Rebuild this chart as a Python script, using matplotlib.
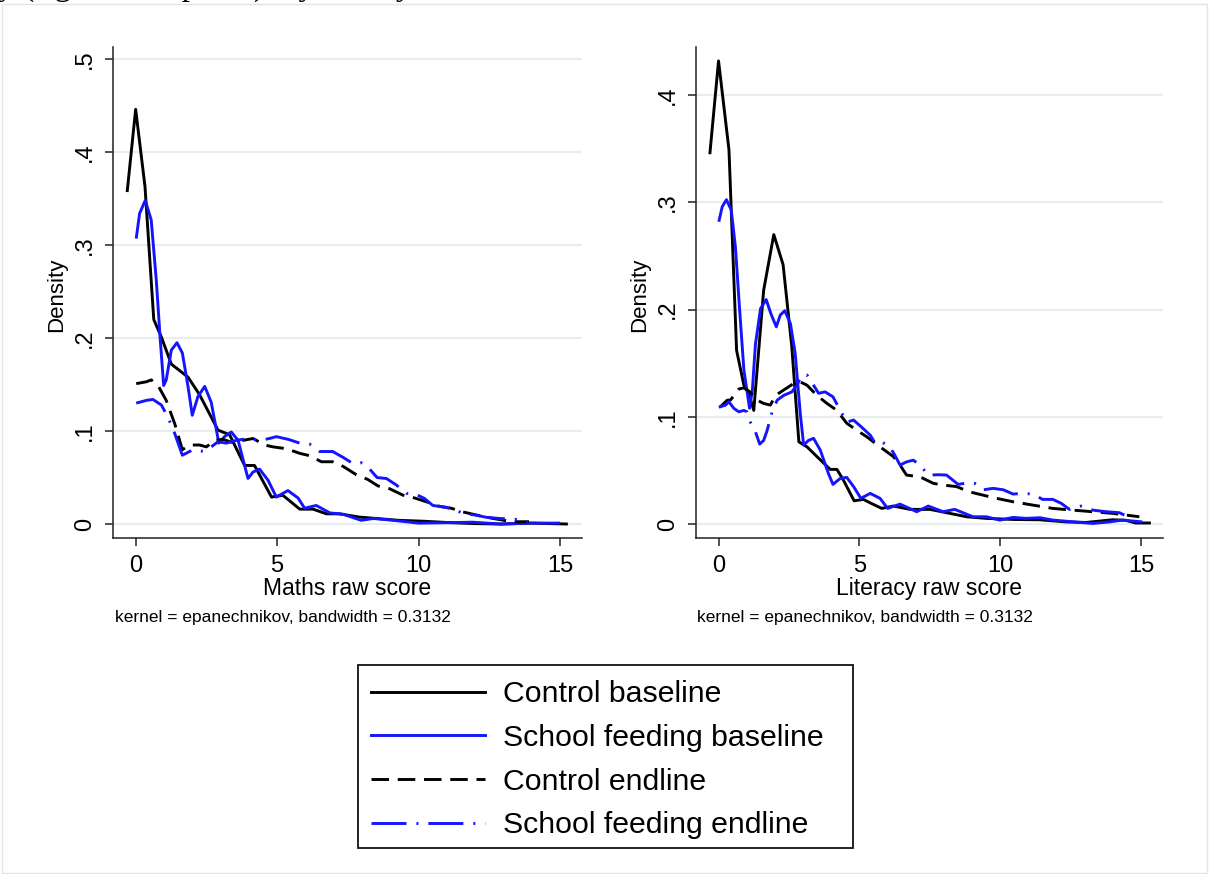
import matplotlib
matplotlib.use("Agg")
import matplotlib.pyplot as plt
from matplotlib.lines import Line2D
from matplotlib.patches import Rectangle

plt.rcParams['font.family'] = ['Liberation Sans', 'DejaVu Sans']

# ---- Maths raw score: kernel density estimates ----
m_cb_x = [-0.3, 0.0, 0.33, 0.64, 0.91, 1.26, 1.85, 2.26, 2.91, 3.32, 3.85, 4.2, 4.8, 5.2,
          5.8, 6.27, 6.74, 7.2, 7.9, 9.3, 10.2, 11.1, 12.0, 12.9, 14.0, 15.27]
m_cb_y = [0.357, 0.446, 0.363, 0.220, 0.201, 0.172, 0.158, 0.139, 0.101, 0.096, 0.063, 0.063, 0.029, 0.031,
          0.016, 0.016, 0.011, 0.011, 0.0075, 0.004, 0.003, 0.0015, 0.0005, 0.0, 0.001, 0.0]

m_sb_x = [0.02, 0.14, 0.34, 0.55, 0.73, 0.87, 0.99, 1.08, 1.26, 1.46, 1.65, 1.85, 2.0, 2.2,
          2.44, 2.67, 2.94, 3.14, 3.38, 3.62, 3.97, 4.15, 4.38, 4.68, 4.97, 5.38, 5.74, 5.97,
          6.38, 6.86, 7.33, 7.97, 8.4, 9.1, 10.0, 11.1, 11.9, 12.9, 14.0, 15.0]
m_sb_y = [0.307, 0.334, 0.348, 0.327, 0.262, 0.198, 0.149, 0.155, 0.187, 0.195, 0.184, 0.148, 0.117, 0.137,
          0.148, 0.131, 0.087, 0.094, 0.099, 0.090, 0.049, 0.056, 0.059, 0.047, 0.029, 0.036, 0.028, 0.017,
          0.020, 0.012, 0.0105, 0.004, 0.006, 0.004, 0.001, 0.0015, 0.002, 0.0, 0.001, 0.001]

m_ce_x = [0.02, 0.38, 0.55, 0.79, 1.08, 1.38, 1.65, 1.91, 2.26, 2.5, 2.79, 3.09, 3.38, 3.79,
          4.15, 4.56, 4.85, 5.33, 5.8, 6.15, 6.56, 6.96, 7.33, 7.8, 8.2, 8.56, 8.97, 9.45,
          9.86, 10.27, 10.74, 11.15, 11.57, 12.04, 12.63, 13.3, 13.9]
m_ce_y = [0.151, 0.153, 0.155, 0.149, 0.133, 0.108, 0.080, 0.085, 0.085, 0.083, 0.090, 0.091, 0.088, 0.090,
          0.092, 0.085, 0.083, 0.081, 0.076, 0.0735, 0.067, 0.067, 0.062, 0.053, 0.048, 0.041, 0.038, 0.031,
          0.028, 0.024, 0.019, 0.017, 0.013, 0.0097, 0.006, 0.0025, 0.0025]

m_se_x = [0.02, 0.38, 0.61, 0.91, 1.14, 1.38, 1.65, 2.03, 2.42, 2.67, 2.91, 3.2, 3.56, 3.97,
          4.38, 4.73, 4.97, 5.4, 5.8, 6.15, 6.5, 6.96, 7.33, 7.68, 7.97, 8.27, 8.53, 8.86,
          9.21, 9.57, 9.86, 10.2, 10.5, 10.97, 11.3, 11.57, 12.0, 12.4, 12.86, 13.45, 13.86]
m_se_y = [0.130, 0.133, 0.134, 0.128, 0.115, 0.0975, 0.074, 0.080, 0.078, 0.083, 0.0885, 0.087, 0.090, 0.092,
          0.090, 0.092, 0.094, 0.091, 0.087, 0.086, 0.078, 0.078, 0.0717, 0.065, 0.066, 0.059, 0.050, 0.049,
          0.042, 0.033, 0.0325, 0.0276, 0.020, 0.018, 0.015, 0.0115, 0.0097, 0.0072, 0.006, 0.005, 0.0025]

# ---- Literacy raw score: kernel density estimates ----
l_cb_x = [-0.31, 0.0, 0.37, 0.64, 0.9, 1.07, 1.25, 1.6, 1.96, 2.29, 2.6, 2.85, 3.14, 3.49,
          3.96, 4.2, 4.43, 4.81, 5.14, 5.44, 5.79, 6.2, 6.79, 7.5, 8.09, 8.8, 9.5, 10.45,
          11.4, 12.33, 13.04, 13.98, 14.45, 14.8, 15.34]
l_cb_y = [0.345, 0.432, 0.349, 0.162, 0.1295, 0.122, 0.106, 0.218, 0.270, 0.242, 0.165, 0.0767, 0.072, 0.063,
          0.051, 0.051, 0.041, 0.0217, 0.023, 0.019, 0.0146, 0.0168, 0.0137, 0.0137, 0.0106, 0.0068, 0.0053, 0.0043,
          0.004, 0.002, 0.0015, 0.004, 0.0035, 0.001, 0.001]

l_sb_x = [0.01, 0.13, 0.28, 0.45, 0.6, 0.75, 0.9, 1.1, 1.2, 1.31, 1.49, 1.69, 1.86, 2.05,
          2.19, 2.35, 2.55, 2.72, 2.9, 3.02, 3.19, 3.37, 3.61, 3.9, 4.06, 4.32, 4.55, 4.79,
          5.05, 5.38, 5.73, 6.0, 6.44, 7.03, 7.44, 7.97, 8.38, 9.03, 9.5, 9.98, 10.45, 10.92,
          11.4, 11.87, 12.8, 13.28, 13.86, 14.33, 15.04]
l_sb_y = [0.282, 0.296, 0.3026, 0.293, 0.258, 0.199, 0.1435, 0.108, 0.125, 0.168, 0.201, 0.2094, 0.196, 0.184,
          0.195, 0.199, 0.187, 0.159, 0.103, 0.0736, 0.078, 0.080, 0.069, 0.047, 0.037, 0.0426, 0.0435, 0.035,
          0.024, 0.0286, 0.024, 0.0146, 0.0186, 0.0115, 0.0168, 0.0115, 0.0137, 0.0068, 0.0068, 0.0037, 0.0062, 0.0053,
          0.0059, 0.0037, 0.0016, 0.0006, 0.002, 0.0037, 0.002]

l_ce_x = [0.05, 0.31, 0.42, 0.72, 0.9, 1.13, 1.37, 1.6, 1.84, 2.02, 2.31, 2.66, 2.9, 3.14,
          3.49, 3.85, 4.2, 4.55, 4.9, 5.26, 5.73, 6.2, 6.44, 6.67, 7.15, 7.62, 7.97, 8.44,
          8.91, 9.38, 9.86, 10.45, 11.15, 11.86, 12.57, 13.28, 13.98, 14.93]
l_ce_y = [0.109, 0.1156, 0.1156, 0.126, 0.127, 0.123, 0.1156, 0.1125, 0.111, 0.120, 0.125, 0.131, 0.1326, 0.1295,
          0.120, 0.1125, 0.106, 0.094, 0.0876, 0.0814, 0.072, 0.063, 0.055, 0.0457, 0.044, 0.038, 0.0363, 0.035,
          0.030, 0.027, 0.024, 0.0208, 0.0177, 0.0146, 0.013, 0.0115, 0.010, 0.0068]

l_se_x = [0.01, 0.25, 0.37, 0.54, 0.72, 0.9, 1.01, 1.13, 1.31, 1.46, 1.6, 1.72, 1.9, 2.08,
          2.31, 2.6, 2.78, 2.96, 3.14, 3.37, 3.55, 3.78, 4.06, 4.32, 4.55, 4.79, 5.05, 5.38,
          5.55, 5.79, 6.08, 6.26, 6.44, 6.67, 6.91, 7.15, 7.44, 7.8, 8.09, 8.5, 8.85, 9.09,
          9.4, 9.74, 10.1, 10.45, 10.8, 11.15, 11.5, 11.86, 12.16, 12.45, 12.85, 13.28, 13.75, 14.22, 14.4]
l_se_y = [0.109, 0.111, 0.114, 0.108, 0.1047, 0.106, 0.1047, 0.095, 0.086, 0.0746, 0.078, 0.087, 0.1047, 0.1156,
          0.120, 0.1233, 0.1295, 0.139, 0.139, 0.1295, 0.122, 0.1233, 0.1187, 0.106, 0.095, 0.097, 0.091, 0.083,
          0.0758, 0.0767, 0.072, 0.064, 0.055, 0.058, 0.0596, 0.055, 0.0457, 0.046, 0.0457, 0.037, 0.0385, 0.038,
          0.032, 0.0333, 0.032, 0.028, 0.0286, 0.028, 0.023, 0.023, 0.0193, 0.0137, 0.0168, 0.013, 0.0115, 0.0106, 0.0084]

series_labels = ["Control baseline", "School feeding baseline",
                 "Control endline", "School feeding endline"]
x_ticks = [0, 5, 10, 15]
maths_yticks = [0, 0.1, 0.2, 0.3, 0.4, 0.5]
maths_yticklabels = ["0", ".1", ".2", ".3", ".4", ".5"]
lit_yticks = [0, 0.1, 0.2, 0.3, 0.4]
lit_yticklabels = ["0", ".1", ".2", ".3", ".4"]
note_text = "kernel = epanechnikov, bandwidth = 0.3132"

BLACK = "#000000"
BLUE = "#1414ff"
LW = 2.1
styles = [
    dict(color=BLACK, linestyle="-"),
    dict(color=BLUE, linestyle="-"),
    dict(color=BLACK, linestyle=(0, (6.0, 3.0))),
    dict(color=BLUE, linestyle=(0, (12.0, 3.4, 0.7, 3.4))),
]
GRID = "#e6eef0"

W, H = 1209, 874
fig = plt.figure(figsize=(W / 100, H / 100), dpi=100)


def px_axes(left, right, top, bottom):
    return fig.add_axes([left / W, 1 - bottom / H, (right - left) / W, (bottom - top) / H])


def style_panel(ax, xs_ys, yticks, yticklabels, ylim, xlabel, label_x):
    for (xs, ys), st in zip(xs_ys, styles):
        ax.plot(xs, ys, lw=LW, solid_capstyle="butt", dash_capstyle="butt", **st)
    ax.set_xlim(-0.8, 15.77)
    ax.set_ylim(*ylim)
    ax.set_xticks(x_ticks)
    ax.set_yticks(yticks)
    ax.set_yticklabels(yticklabels)
    for y in yticks:
        ax.axhline(y, color=GRID, lw=1.6, zorder=0)
    for s in ("top", "right"):
        ax.spines[s].set_visible(False)
    for s in ("left", "bottom"):
        ax.spines[s].set_linewidth(1.1)
        ax.spines[s].set_color("#222222")
    ax.tick_params(axis="both", length=6, width=1.1, color="#222222",
                   labelsize=17, pad=6)
    for lab in ax.get_yticklabels():
        lab.set_rotation(90)
        lab.set_va("center")
        lab.set_ha("right")
    ax.set_xlabel(xlabel, fontsize=16.5, labelpad=0)
    ax.set_ylabel("Density", fontsize=16)
    ax.yaxis.set_label_coords(label_x, 0.495)


ax1 = px_axes(113, 582, 47, 538)
style_panel(ax1, [(m_cb_x, m_cb_y), (m_sb_x, m_sb_y), (m_ce_x, m_ce_y), (m_se_x, m_se_y)],
            maths_yticks, maths_yticklabels, (-0.015, 0.513), "Maths raw score", -0.098)

ax2 = px_axes(696, 1163, 47, 538)
style_panel(ax2, [(l_cb_x, l_cb_y), (l_sb_x, l_sb_y), (l_ce_x, l_ce_y), (l_se_x, l_se_y)],
            lit_yticks, lit_yticklabels, (-0.013, 0.445), "Literacy raw score", -0.098)

fig.text(115 / W, 1 - 622 / H, note_text, fontsize=12.5, ha="left", va="baseline")
fig.text(697 / W, 1 - 622 / H, note_text, fontsize=12.5, ha="left", va="baseline")

# legend box drawn separately so its padding can be uneven
fig.patches.append(Rectangle((358 / W, 1 - 848 / H), 495 / W, 183 / H,
                             transform=fig.transFigure, fill=False,
                             edgecolor="#111111", lw=1.3))
handles = [Line2D([], [], lw=LW, **st) for st in styles]
leg = fig.legend(handles, series_labels, loc="upper left",
                 bbox_to_anchor=(356 / W, 1 - 665 / H),
                 fontsize=21.8, frameon=False,
                 handlelength=3.75, handletextpad=0.6, labelspacing=0.52,
                 borderpad=0.5, borderaxespad=0)

# caption line of the surrounding page, cut off at the top edge
fig.text(-2 / W, 1 + 5.5 / H, "y (right-hand panel), by survey round",
         fontsize=24, family=["Liberation Serif", "DejaVu Serif"],
         ha="left", va="baseline")

# faint outer frame of the graph region
fig.patches.append(Rectangle((2 / W, 1 / H), 1 - 4 / W, 1 - 5 / H,
                             transform=fig.transFigure, fill=False,
                             edgecolor="#e4e4e4", lw=1))

fig.savefig("out.png", dpi=100)
